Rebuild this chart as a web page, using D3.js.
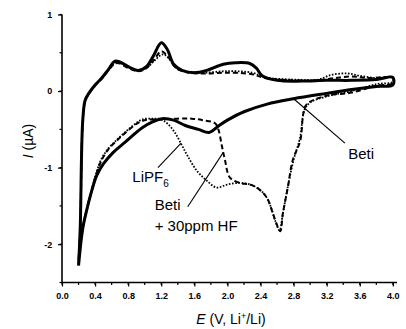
<!DOCTYPE html>
<html>
<head>
<meta charset="utf-8">
<script src="https://cdn.jsdelivr.net/npm/d3@7"></script>
<style>
  body { margin: 0; background: #fff; }
  svg { display: block; font-family: "Liberation Sans", Arial, sans-serif; }
</style>
</head>
<body>
<svg id="chart" width="406" height="329"></svg>
<script>
// cyclic voltammograms, [E (V), I (uA)] in sweep order: 0.2 -> 4.0 -> 0.2
var betiCurve = [
  [0.2,-2.28],[0.22,-1.8],[0.25,-0.4],[0.28,-0.12],[0.33,-0.02],[0.4,0.08],[0.48,0.17],
  [0.56,0.28],[0.64,0.39],[0.7,0.38],[0.8,0.32],[0.92,0.27],[1.02,0.32],[1.1,0.45],
  [1.2,0.63],[1.27,0.55],[1.35,0.35],[1.45,0.27],[1.6,0.24],[1.75,0.27],[1.95,0.35],
  [2.1,0.37],[2.27,0.36],[2.35,0.3],[2.42,0.2],[2.6,0.14],[2.9,0.13],[3.2,0.14],
  [3.5,0.14],[3.8,0.15],[4.0,0.18],
  [4.0,0.08],[3.8,0.06],[3.5,0.02],[3.2,-0.03],[2.8,-0.1],[2.48,-0.17],[2.2,-0.27],
  [2.0,-0.38],[1.9,-0.45],[1.78,-0.54],[1.65,-0.5],[1.49,-0.45],[1.35,-0.38],[1.21,-0.36],
  [1.1,-0.4],[0.97,-0.48],[0.76,-0.67],[0.62,-0.8],[0.5,-0.95],[0.42,-1.1],[0.36,-1.3],
  [0.3,-1.55],[0.25,-1.8],[0.2,-2.28]
];
var lipf6Curve = [
  [0.2,-2.25],[0.22,-1.8],[0.25,-0.4],[0.28,-0.12],[0.33,-0.02],[0.4,0.08],[0.48,0.17],
  [0.56,0.27],[0.64,0.37],[0.7,0.37],[0.8,0.31],[0.92,0.27],[1.02,0.3],[1.12,0.4],
  [1.22,0.48],[1.3,0.42],[1.38,0.3],[1.5,0.26],[1.7,0.24],[2.0,0.26],[2.3,0.24],
  [2.45,0.18],[2.8,0.15],[3.1,0.15],[3.25,0.21],[3.45,0.23],[3.6,0.2],[3.8,0.17],[4.0,0.18],
  [4.0,0.12],[3.8,0.09],[3.5,0.0],[3.2,-0.07],[3.0,-0.15],[2.93,-0.25],[2.88,-0.6],
  [2.8,-0.9],[2.73,-1.25],[2.67,-1.6],[2.63,-1.82],[2.58,-1.7],[2.52,-1.5],[2.45,-1.35],
  [2.3,-1.23],[2.15,-1.2],[2.0,-1.22],[1.87,-1.26],[1.75,-1.17],[1.63,-1.04],[1.52,-0.85],
  [1.45,-0.71],[1.37,-0.55],[1.28,-0.43],[1.2,-0.37],[1.1,-0.36],[0.97,-0.37],[0.86,-0.45],
  [0.76,-0.54],[0.66,-0.64],[0.56,-0.75],[0.48,-0.88],[0.42,-1.05],[0.36,-1.28],
  [0.3,-1.53],[0.25,-1.78],[0.2,-2.25]
];
var betiHfCurve = [
  [0.2,-2.2],[0.22,-1.8],[0.25,-0.42],[0.28,-0.13],[0.33,-0.03],[0.4,0.07],[0.48,0.16],
  [0.56,0.27],[0.64,0.36],[0.7,0.36],[0.8,0.3],[0.92,0.26],[1.02,0.3],[1.12,0.42],
  [1.2,0.52],[1.28,0.45],[1.38,0.3],[1.5,0.25],[1.7,0.23],[2.0,0.24],[2.3,0.22],
  [2.45,0.17],[2.8,0.14],[3.1,0.14],[3.3,0.17],[3.5,0.19],[3.7,0.17],[4.0,0.17],
  [4.0,0.1],[3.8,0.07],[3.5,-0.02],[3.2,-0.06],[2.96,-0.17],[2.92,-0.28],[2.88,-0.65],
  [2.79,-0.9],[2.73,-1.26],[2.67,-1.6],[2.64,-1.83],[2.6,-1.75],[2.55,-1.6],[2.48,-1.4],
  [2.38,-1.28],[2.27,-1.22],[2.15,-1.2],[2.03,-1.13],[1.97,-0.9],[1.93,-0.7],[1.89,-0.5],
  [1.85,-0.42],[1.7,-0.38],[1.57,-0.36],[1.4,-0.36],[1.2,-0.37],[1.0,-0.38],[0.9,-0.43],
  [0.76,-0.55],[0.66,-0.65],[0.56,-0.76],[0.48,-0.9],[0.42,-1.07],[0.36,-1.3],
  [0.3,-1.55],[0.25,-1.8],[0.2,-2.2]
];

var xTicks = [0.0,0.4,0.8,1.2,1.6,2.0,2.4,2.8,3.2,3.6,4.0];
var xMinorTicks = d3.range(0, 4.05, 0.2);
var yTicks = [1,0,-1,-2];
var yMinorTicks = [1,0.5,0,-0.5,-1,-1.5,-2,-2.5];

// annotation leader lines & labels, in data units
var leaders = [
  {from:[1.16,-1.0], to:[1.44,-0.68]},
  {from:[1.52,-1.51], to:[1.95,-0.8]},
  {from:[2.79,-0.09], to:[3.42,-0.68]}
];

var svg = d3.select("#chart");
var x = d3.scaleLinear().domain([0, 4.05]).range([62, 397]);
var y = d3.scaleLinear().domain([-2.5, 1]).range([282.5, 14.5]);

// axes
var xAxis = d3.axisBottom(x).tickValues(xTicks).tickSize(4).tickFormat(d3.format(".1f"));
var yAxis = d3.axisLeft(y).tickValues(yTicks).tickSize(4).tickFormat(function(d){ return String(d); });

var gx = svg.append("g").attr("transform","translate(0,"+y(-2.5)+")");
gx.call(xAxis);
gx.selectAll(".tick").filter(function(d){return false;});
gx.append("g").selectAll("line").data(xMinorTicks).enter().append("line")
  .attr("x1",function(d){return x(d);}).attr("x2",function(d){return x(d);})
  .attr("y1",0).attr("y2",2.5).attr("stroke","#000").attr("stroke-width",1.2);

var gy = svg.append("g").attr("transform","translate("+x(0)+",0)");
gy.call(yAxis);
gy.append("g").selectAll("line").data(yMinorTicks).enter().append("line")
  .attr("y1",function(d){return y(d);}).attr("y2",function(d){return y(d);})
  .attr("x1",0).attr("x2",-2.5).attr("stroke","#000").attr("stroke-width",1.2);

[gx, gy].forEach(function(g){
  g.select(".domain").attr("stroke","#000").attr("stroke-width",1.6).attr("d", null);
  g.selectAll(".tick line").attr("stroke","#000").attr("stroke-width",1.2);
  g.selectAll(".tick text").attr("fill","#000").style("font-size","9px").style("font-weight","bold");
});
gx.select(".domain").remove();
gy.select(".domain").remove();
gx.append("line").attr("x1",x(0)).attr("x2",x(4.05)).attr("y1",0).attr("y2",0)
  .attr("stroke","#000").attr("stroke-width",1.6);
gy.append("line").attr("y1",y(-2.5)).attr("y2",y(1)).attr("x1",0).attr("x2",0)
  .attr("stroke","#000").attr("stroke-width",1.6);
gx.selectAll(".tick text").attr("dy","1.05em");
gy.selectAll(".tick text").attr("dx","-0.3em");

// curves
var line = d3.line().curve(d3.curveCatmullRom.alpha(0.5))
  .x(function(d){return x(d[0]);}).y(function(d){return y(d[1]);});

svg.append("path").datum(lipf6Curve).attr("d",line).attr("fill","none")
  .attr("stroke","#000").attr("stroke-width",1.8).attr("stroke-dasharray","1.6,1.6");
svg.append("path").datum(betiHfCurve).attr("d",line).attr("fill","none")
  .attr("stroke","#000").attr("stroke-width",2).attr("stroke-dasharray","5,3");
svg.append("path").datum(betiCurve).attr("d",line).attr("fill","none")
  .attr("stroke","#000").attr("stroke-width",3).attr("stroke-linejoin","round");

// leaders
svg.selectAll("line.leader").data(leaders).enter().append("line").attr("class","leader")
  .attr("x1",function(d){return x(d.from[0]);}).attr("y1",function(d){return y(d.from[1]);})
  .attr("x2",function(d){return x(d.to[0]);}).attr("y2",function(d){return y(d.to[1]);})
  .attr("stroke","#000").attr("stroke-width",1.1);

// labels
var lab = svg.append("g").style("font-size","15px").attr("fill","#000");
var t1 = lab.append("text").attr("x",x(0.85)).attr("y",y(-1.19)).text("LiPF");
t1.append("tspan").attr("dy","5").style("font-size","10px").text("6");
lab.append("text").attr("x",x(1.12)).attr("y",y(-1.55)).text("Beti");
lab.append("text").attr("x",x(1.12)).attr("y",y(-1.83)).text("+ 30ppm HF");
lab.append("text").attr("x",x(3.46)).attr("y",y(-0.89)).text("Beti");

// axis titles
var xt = svg.append("text").attr("x",231).attr("y",324).attr("text-anchor","middle")
  .style("font-size","14px").attr("fill","#000");
xt.append("tspan").style("font-style","italic").text("E");
xt.append("tspan").text(" (V, Li");
xt.append("tspan").attr("dy","-5").style("font-size","9px").text("+");
xt.append("tspan").attr("dy","5").text("/Li)");

var yt = svg.append("text").attr("transform","translate(33,141) rotate(-90)")
  .attr("text-anchor","middle").style("font-size","14px").attr("fill","#000");
yt.append("tspan").style("font-style","italic").text("I");
yt.append("tspan").text(" (\u00b5A)");
</script>
</body>
</html>
